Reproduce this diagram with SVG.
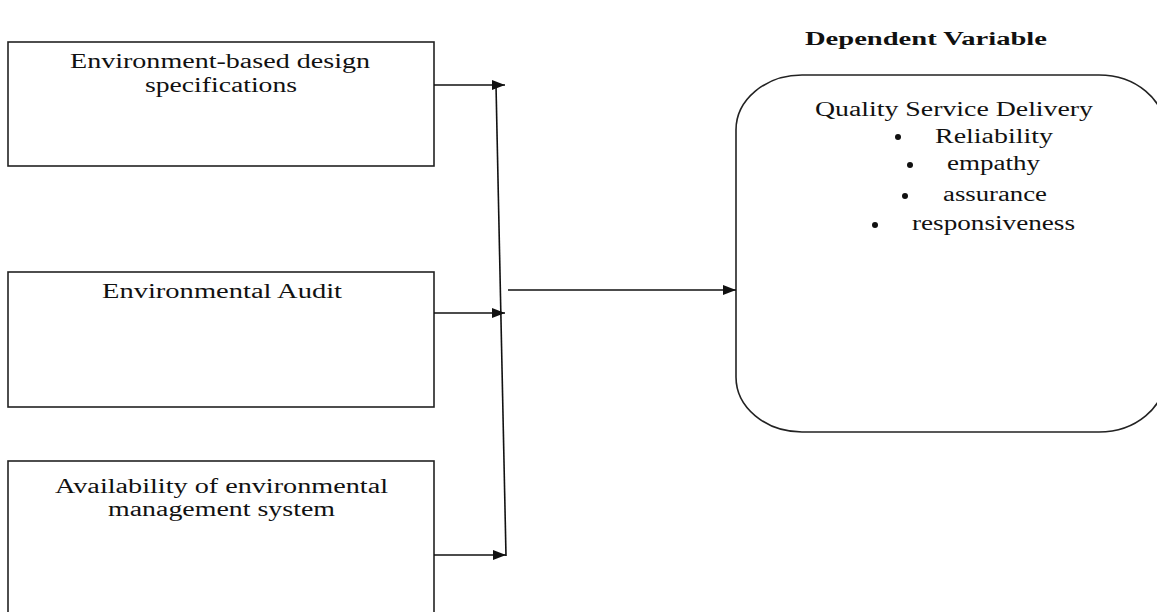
<svg xmlns="http://www.w3.org/2000/svg" width="1157" height="612" viewBox="0 0 1157 612">
<style>
.box{fill:#fff;stroke:#222;stroke-width:1.6}
.t{font-family:"Liberation Serif","Times New Roman",serif;font-size:20px;fill:#111}
.h{font-family:"Liberation Serif","Times New Roman",serif;font-size:18px;font-weight:bold;fill:#111}
.c{fill:none;stroke:#111;stroke-width:1.6}
</style>
<defs>
<marker id="ah" markerUnits="userSpaceOnUse" markerWidth="14" markerHeight="10" refX="13" refY="5" orient="auto">
<path d="M0,0 L13,5 L0,10 Z" fill="#111"/>
</marker>
</defs>
<rect width="1157" height="612" fill="#fff"/>
<text class="h" x="805" y="45" textLength="242" lengthAdjust="spacingAndGlyphs">Dependent Variable</text>
<g id="n1">
<rect class="box" x="8" y="42" width="426" height="124"/>
<text class="t" x="70" y="68" textLength="300" lengthAdjust="spacingAndGlyphs">Environment-based design</text>
<text class="t" x="145" y="92" textLength="152" lengthAdjust="spacingAndGlyphs">specifications</text>
</g>
<g id="n2">
<rect class="box" x="8" y="272" width="426" height="135"/>
<text class="t" x="102" y="298" textLength="240" lengthAdjust="spacingAndGlyphs">Environmental Audit</text>
</g>
<g id="n3">
<rect class="box" x="8" y="461" width="426" height="161"/>
<text class="t" x="55" y="493" textLength="333" lengthAdjust="spacingAndGlyphs">Availability of environmental</text>
<text class="t" x="108" y="516" textLength="227" lengthAdjust="spacingAndGlyphs">management system</text>
</g>
<g id="n4">
<rect class="box" x="736" y="75" width="429" height="357" rx="66" ry="55"/>
<text class="t" x="815" y="116" textLength="278" lengthAdjust="spacingAndGlyphs">Quality Service Delivery</text>
<circle cx="898" cy="137" r="3" fill="#111"/>
<text class="t" x="935" y="143" textLength="118" lengthAdjust="spacingAndGlyphs">Reliability</text>
<circle cx="910" cy="165" r="3" fill="#111"/>
<text class="t" x="947" y="170" textLength="93" lengthAdjust="spacingAndGlyphs">empathy</text>
<circle cx="905" cy="196" r="3" fill="#111"/>
<text class="t" x="943" y="201" textLength="104" lengthAdjust="spacingAndGlyphs">assurance</text>
<circle cx="875" cy="225" r="3" fill="#111"/>
<text class="t" x="912" y="230" textLength="163" lengthAdjust="spacingAndGlyphs">responsiveness</text>
</g>
<g id="connectors">
<line class="c" x1="496" y1="85" x2="506" y2="556"/>
<line class="c" x1="434" y1="85" x2="505" y2="85" marker-end="url(#ah)"/>
<line class="c" x1="434" y1="313" x2="505" y2="313" marker-end="url(#ah)"/>
<line class="c" x1="434" y1="555" x2="506" y2="555" marker-end="url(#ah)"/>
<line class="c" x1="508" y1="290" x2="736" y2="290" marker-end="url(#ah)"/>
</g>
</svg>
